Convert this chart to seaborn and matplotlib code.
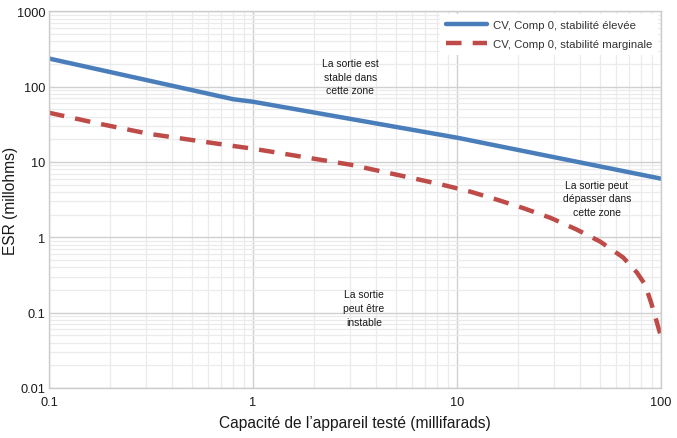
import pandas as pd
import numpy as np
import matplotlib as mpl
import matplotlib.pyplot as plt
import seaborn as sns
from matplotlib.ticker import FixedLocator, FixedFormatter, LogLocator, NullFormatter

# --- data (log-log) ---
cap_high = [0.1, 0.8, 1, 10, 100]
esr_high = [236, 68, 63, 21, 6.0]

cap_marg = [0.1, 0.178, 0.31, 0.8, 1, 3, 6.22, 8.43, 11.6, 15.7, 21.1, 28.6, 38.3,
            50.2, 65.2, 76.2, 83.5, 89.4, 100]
esr_marg = [45, 32, 23.6, 16.3, 15, 9.2, 6.0, 5.0, 4.04, 3.16, 2.44, 1.82, 1.28,
            0.88, 0.54, 0.34, 0.236, 0.136, 0.048]

label_high = 'CV, Comp 0, stabilité élevée'
label_marg = 'CV, Comp 0, stabilité marginale'

x_ticks = [0.1, 1, 10, 100]
x_ticklabels = ['0.1', '1', '10', '100']
y_ticks = [0.01, 0.1, 1, 10, 100, 1000]
y_ticklabels = ['0.01', '0.1', '1', '10', '100', '1000']

zones = [
    (3.0, 136, 'La sortie est\nstable dans\ncette zone'),
    (48.5, 3.3, 'La sortie peut\ndépasser dans\ncette zone'),
    (3.5, 0.115, 'La sortie\npeut être\ninstable'),
]

df = pd.concat([
    pd.DataFrame({'cap': cap_high, 'esr': esr_high, 'serie': label_high}),
    pd.DataFrame({'cap': cap_marg, 'esr': esr_marg, 'serie': label_marg}),
])

sns.set_theme(style='white')
plt.rcParams['font.family'] = ['Liberation Sans', 'DejaVu Sans']

fig = plt.figure(figsize=(6.77, 4.39), dpi=100)
ax = fig.add_axes([0.0724, 0.114, 0.904, 0.858])

palette = {label_high: '#4a7ebb', label_marg: '#be4b48'}
sns.lineplot(data=df, x='cap', y='esr', hue='serie', style='serie',
             palette=palette, dashes={label_high: '', label_marg: (3.5, 2.5)},
             linewidth=3.2, sort=False, ax=ax)

ax.set_xscale('log')
ax.set_yscale('log')
ax.set_xlim(0.1, 100)
ax.set_ylim(0.01, 1000)

ax.xaxis.set_major_locator(FixedLocator(x_ticks))
ax.xaxis.set_major_formatter(FixedFormatter(x_ticklabels))
ax.yaxis.set_major_locator(FixedLocator(y_ticks))
ax.yaxis.set_major_formatter(FixedFormatter(y_ticklabels))
ax.xaxis.set_minor_locator(LogLocator(base=10, subs=np.arange(2, 10)))
ax.yaxis.set_minor_locator(LogLocator(base=10, subs=np.arange(2, 10)))
ax.xaxis.set_minor_formatter(NullFormatter())
ax.yaxis.set_minor_formatter(NullFormatter())

ax.grid(which='major', color='#d0d0d0', linewidth=1.0)
ax.grid(which='minor', color='#ebebeb', linewidth=0.9)
ax.set_axisbelow(True)
ax.tick_params(which='both', length=0, labelsize=9.2, colors='#1a1a1a')
ax.tick_params(axis='y', pad=2.5)
ax.tick_params(axis='x', pad=6)

for s in ax.spines.values():
    s.set_color('#cccccc')
    s.set_linewidth(1.0)

ax.set_xlabel('Capacité de l\u2019appareil testé (millifarads)', fontsize=11.2, color='#1a1a1a', labelpad=5)
ax.set_ylabel('ESR (millohms)', fontsize=11.2, color='#1a1a1a')
ax.yaxis.set_label_coords(-0.051, 0.5)

for x, y, t in zones:
    ax.text(x, y, t, ha='center', va='center', fontsize=7.5, color='#1a1a1a', linespacing=1.45)

leg = ax.legend(loc='upper right', borderaxespad=0.25, fontsize=8.2, frameon=True,
                fancybox=False, framealpha=1, facecolor='white', edgecolor='none',
                handlelength=3.6, handletextpad=0.5, borderpad=0.55, labelspacing=0.75)
for t in leg.get_texts():
    t.set_color('#333333')

fig.savefig('out.png', dpi=100)
